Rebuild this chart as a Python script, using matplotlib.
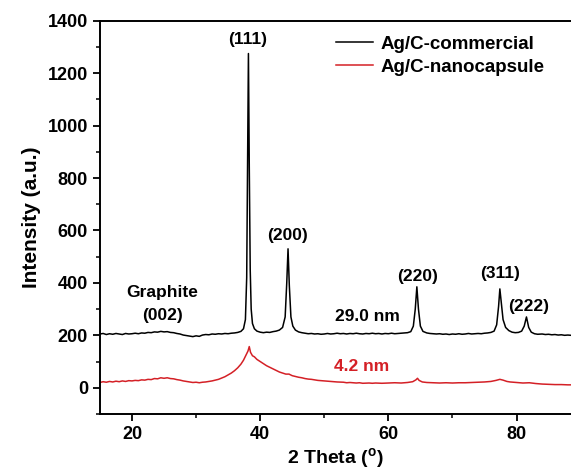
import numpy as np
import matplotlib
matplotlib.use("Agg")
import matplotlib.pyplot as plt
from matplotlib.ticker import MultipleLocator

plt.rcParams["font.family"] = ["Liberation Sans", "DejaVu Sans"]
plt.rcParams["font.weight"] = "bold"
plt.rcParams["mathtext.default"] = "regular"

# Ag/C-commercial (2 theta, intensity)
commercial = [
    (15.0, 205), (15.5, 207), (16.0, 203), (16.5, 206), (17.0, 204), (17.5, 207),
    (18.0, 205), (18.5, 203), (19.0, 207), (19.5, 205), (20.0, 206), (20.5, 208),
    (21.0, 206), (21.5, 209), (22.0, 208), (22.5, 211), (23.0, 210), (23.5, 213),
    (24.0, 212), (24.5, 215), (25.0, 213), (25.5, 214), (26.0, 211), (26.5, 210),
    (27.0, 207), (27.5, 205), (28.0, 201), (28.5, 199), (29.0, 197), (29.5, 195),
    (30.0, 198), (30.5, 196), (31.0, 201), (31.5, 203), (32.0, 202), (32.5, 205),
    (33.0, 204), (33.5, 206), (34.0, 205), (34.5, 207), (35.0, 206), (35.5, 208),
    (36.0, 209), (36.5, 211), (37.0, 215), (37.4, 225), (37.7, 260), (37.9, 420),
    (38.05, 900), (38.17, 1275), (38.3, 850), (38.45, 450), (38.6, 300), (38.8, 245),
    (39.1, 225), (39.5, 216), (40.0, 212), (40.5, 210), (41.0, 212), (41.5, 211),
    (42.0, 214), (42.5, 216), (43.0, 220), (43.5, 230), (43.9, 270), (44.15, 400),
    (44.35, 530), (44.55, 390), (44.8, 270), (45.1, 235), (45.5, 220), (46.0, 213),
    (46.5, 210), (47.0, 208), (47.5, 206), (48.0, 207), (48.5, 205), (49.0, 206),
    (49.5, 204), (50.0, 205), (50.5, 207), (51.0, 205), (51.5, 206), (52.0, 208),
    (52.5, 206), (53.0, 207), (53.5, 205), (54.0, 207), (54.5, 206), (55.0, 208),
    (55.5, 206), (56.0, 205), (56.5, 207), (57.0, 206), (57.5, 208), (58.0, 206),
    (58.5, 207), (59.0, 205), (59.5, 207), (60.0, 206), (60.5, 208), (61.0, 206),
    (61.5, 207), (62.0, 208), (62.5, 209), (63.0, 210), (63.5, 214), (63.9, 235),
    (64.2, 300), (64.45, 385), (64.7, 300), (65.0, 235), (65.4, 215), (66.0, 209),
    (66.5, 207), (67.0, 206), (67.5, 205), (68.0, 206), (68.5, 204), (69.0, 205),
    (69.5, 203), (70.0, 205), (70.5, 204), (71.0, 206), (71.5, 204), (72.0, 205),
    (72.5, 207), (73.0, 205), (73.5, 206), (74.0, 207), (74.5, 206), (75.0, 208),
    (75.5, 209), (76.0, 211), (76.5, 216), (76.9, 240), (77.2, 310), (77.4, 377),
    (77.6, 330), (77.9, 260), (78.3, 230), (78.8, 218), (79.3, 212), (79.8, 210),
    (80.3, 211), (80.8, 216), (81.2, 235), (81.55, 270), (81.9, 230), (82.3, 212),
    (82.8, 206), (83.3, 204), (84.0, 205), (84.5, 203), (85.0, 204), (85.5, 202),
    (86.0, 203), (86.5, 201), (87.0, 202), (87.5, 200), (88.0, 201), (88.5, 200),
]

# Ag/C-nanocapsule
nanocapsule = [
    (15.0, 20), (15.5, 23), (16.0, 21), (16.5, 24), (17.0, 22), (17.5, 25),
    (18.0, 23), (18.5, 26), (19.0, 24), (19.5, 27), (20.0, 26), (20.5, 28),
    (21.0, 27), (21.5, 30), (22.0, 29), (22.5, 32), (23.0, 31), (23.5, 35),
    (24.0, 34), (24.5, 38), (25.0, 36), (25.5, 38), (26.0, 35), (26.5, 34),
    (27.0, 31), (27.5, 29), (28.0, 26), (28.5, 24), (29.0, 22), (29.5, 20),
    (30.0, 21), (30.5, 19), (31.0, 21), (31.5, 22), (32.0, 24), (32.5, 26),
    (33.0, 29), (33.5, 32), (34.0, 37), (34.5, 42), (35.0, 49), (35.5, 56),
    (36.0, 65), (36.5, 76), (37.0, 90), (37.4, 105), (37.8, 125), (38.1, 140),
    (38.3, 157), (38.5, 135), (38.8, 122), (39.1, 118), (39.5, 108), (40.0, 100),
    (40.5, 92), (41.0, 84), (41.5, 78), (42.0, 72), (42.5, 66), (43.0, 60),
    (43.5, 56), (44.0, 52), (44.5, 52), (45.0, 46), (45.5, 43), (46.0, 40),
    (46.5, 38), (47.0, 35), (47.5, 33), (48.0, 32), (48.5, 30), (49.0, 28),
    (49.5, 27), (50.0, 26), (51.0, 24), (51.5, 23), (52.0, 22), (53.0, 21),
    (53.5, 19), (54.0, 20), (55.0, 18), (55.5, 19), (56.0, 17), (57.0, 18),
    (57.5, 17), (58.0, 18), (59.0, 17), (60.0, 18), (61.0, 19), (62.0, 18),
    (63.0, 20), (63.8, 23), (64.3, 30), (64.55, 36), (64.8, 28), (65.3, 22),
    (66.0, 20), (67.0, 19), (68.0, 18), (69.0, 19), (70.0, 18), (71.0, 19),
    (72.0, 19), (73.0, 20), (74.0, 21), (75.0, 22), (76.0, 24), (76.8, 28),
    (77.4, 32), (77.9, 29), (78.5, 24), (79.0, 22), (80.0, 20), (81.0, 18),
    (82.0, 19), (83.0, 16), (84.0, 14), (85.0, 13), (86.0, 12), (87.0, 12),
    (88.0, 11), (88.5, 11),
]

peak_labels = ["(111)", "(200)", "(220)", "(311)", "(222)"]
peak_label_x = [38.0, 44.2, 64.5, 77.5, 81.9]
peak_label_y = [1327, 582, 424, 434, 309]

red = "#d42026"

x_c, y_c = np.array(commercial).T
x_n, y_n = np.array(nanocapsule).T

fig = plt.figure(figsize=(5.71, 4.72), dpi=100)
ax = fig.add_axes([0.175, 0.123, 0.825, 0.833])

ax.plot(x_c, y_c, color="black", lw=1.1, label="Ag/C-commercial")
ax.plot(x_n, y_n, color=red, lw=1.1, label="Ag/C-nanocapsule")

ax.set_xlim(15, 88.5)
ax.set_ylim(-100, 1400)
ax.xaxis.set_major_locator(MultipleLocator(20))
ax.xaxis.set_minor_locator(MultipleLocator(10))
ax.yaxis.set_major_locator(MultipleLocator(200))
ax.yaxis.set_minor_locator(MultipleLocator(100))
ax.tick_params(which="major", direction="out", length=5, width=1.3, labelsize=13)
ax.tick_params(which="minor", direction="out", length=3, width=1.1)
ax.spines["right"].set_visible(False)
for s in ["left", "bottom", "top"]:
    ax.spines[s].set_linewidth(1.4)
for lab in ax.get_xticklabels() + ax.get_yticklabels():
    lab.set_fontweight("bold")

ax.set_xlabel("2 Theta ($^{o}$)", fontsize=14, fontweight="bold", labelpad=2)
ax.set_ylabel("Intensity (a.u.)", fontsize=15, fontweight="bold", labelpad=5)

for t, px, py in zip(peak_labels, peak_label_x, peak_label_y):
    ax.text(px, py, t, ha="center", va="center", fontsize=12.5, fontweight="bold")
ax.text(24.7, 363, "Graphite", ha="center", va="center", fontsize=12.5, fontweight="bold")
ax.text(24.7, 277, "(002)", ha="center", va="center", fontsize=12.5, fontweight="bold")
ax.text(56.7, 271, "29.0 nm", ha="center", va="center", fontsize=12.5, fontweight="bold")
ax.text(55.9, 80, "4.2 nm", ha="center", va="center", fontsize=12.5, fontweight="bold", color=red)

leg = ax.legend(loc="upper left", bbox_to_anchor=(0.465, 1.005), frameon=False,
                fontsize=13.5, handlelength=2.0, handletextpad=0.4, labelspacing=0.32)
for t in leg.get_texts():
    t.set_fontweight("bold")

fig.savefig("out.png", dpi=100)
